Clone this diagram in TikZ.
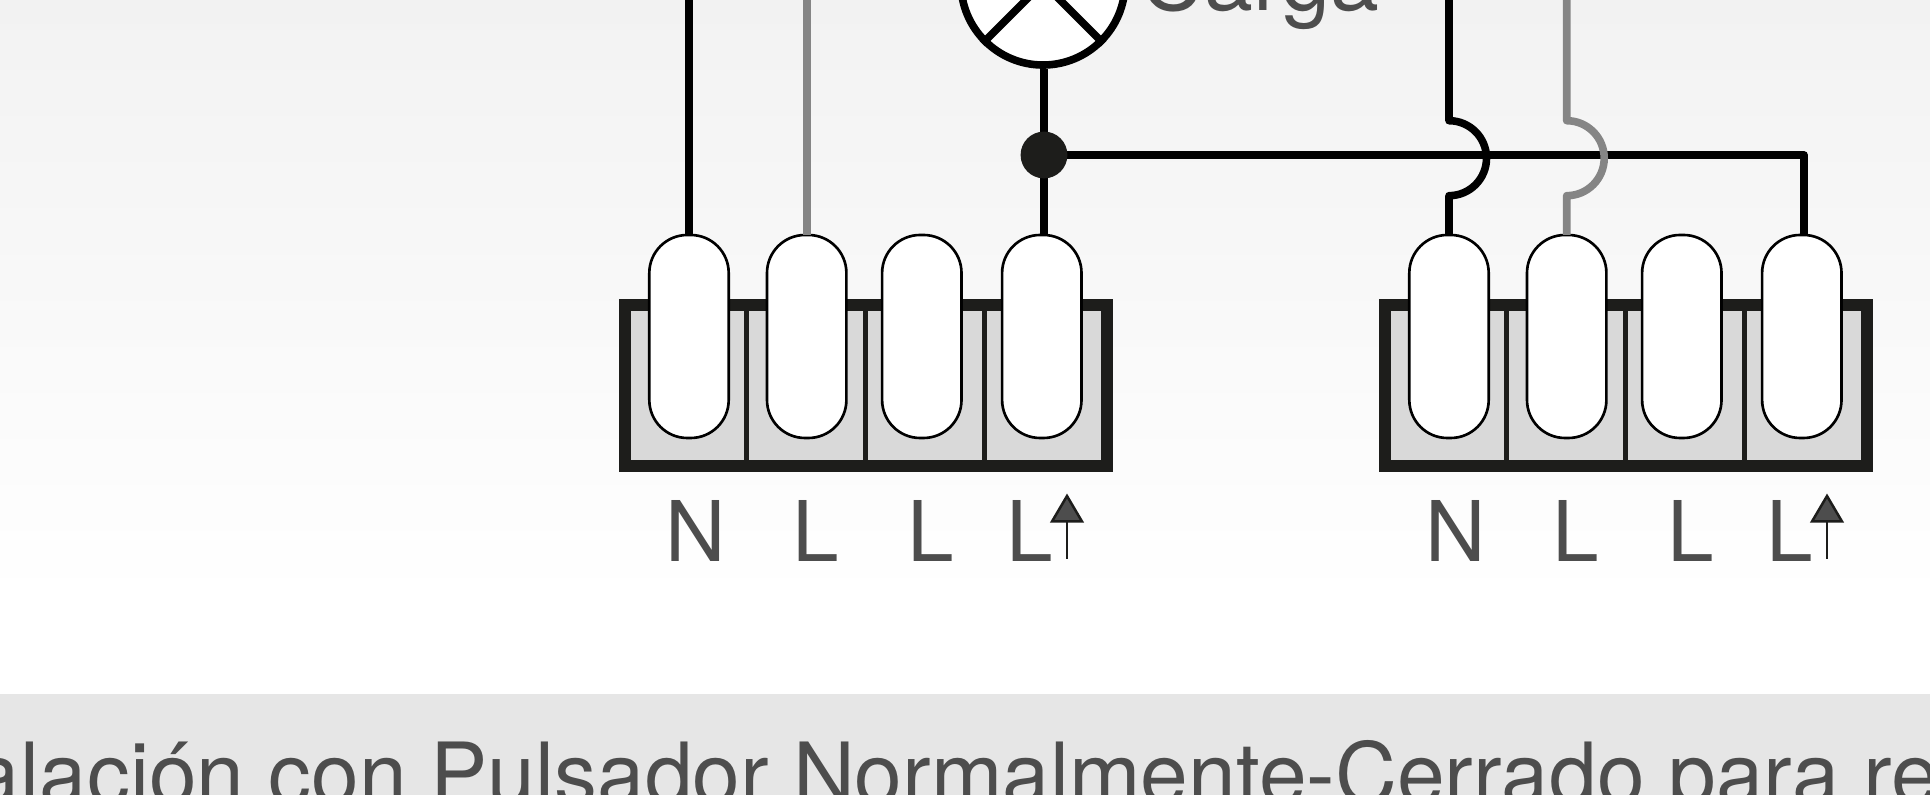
\documentclass[tikz,border=0pt]{standalone}
\usepackage{fontspec}
\setmainfont{TeX Gyre Heros}
\usepackage{tikz}
\usetikzlibrary{calc}
\definecolor{wirebk}{HTML}{000000}
\definecolor{wiregr}{HTML}{858585}
\definecolor{boxbk}{HTML}{1D1D1B}
\definecolor{boxfl}{HTML}{D9D9D9}
\definecolor{labgr}{HTML}{4D4D4D}
\definecolor{bandgr}{HTML}{E6E6E6}
\definecolor{topgr}{HTML}{F2F2F2}
\tikzset{
  wire/.style={line width=7.6*0.2845pt,wirebk,line join=round},
  graywire/.style={wire,wiregr},
  pill/.style={draw=black,fill=white,line width=0.75pt,rounded corners=38*0.2845pt},
  termlabel/.style={labgr,inner sep=0pt,anchor=base west,font=\fontsize{23.8}{23.8}\selectfont},
}
\begin{document}
\begin{tikzpicture}[x=0.01cm,y=-0.01cm]
  \useasboundingbox (0,0) rectangle (1930,795);
  \clip (0,0) rectangle (1930,795);
  % background
  \fill[white] (0,0) rectangle (1930,795);
  \shade[top color=topgr,bottom color=white] (0,0) rectangle (1930,600);
  \fill[bandgr] (0,694) rectangle (1930,795);
  \node[anchor=base west,inner sep=0pt,labgr,font=\fontsize{24.4}{24.4}\selectfont] (caption) at (-28,805) {alación con Pulsador Normalmente-Cerrado para re};
  % lamp
  \coordinate (lampc) at (1043,-17);
  \node[circle,draw=black,fill=white,line width=7.6*0.2845pt,minimum size=164*0.2845pt,inner sep=0pt] (lamp) at (lampc) {};
  \draw[wire] (lampc) -- (lamp.south west);
  \draw[wire] (lampc) -- (lamp.south east);
  \node[anchor=base west,inner sep=0pt,labgr,font=\fontsize{25}{25}\selectfont] (carga) at (1140,11) {Carga};
  % terminal blocks
  \foreach \o/\t in {0/a,760/b} {
    \begin{scope}[xshift=\o*0.01cm]
      \draw[boxbk,fill=boxfl,line width=12*0.2845pt] (625.3,304.7) rectangle (1107,466.5);
      \foreach \x in {746.8,865.4,984} \draw[boxbk,line width=5*0.2845pt] (\x,310) -- (\x,460);
      \foreach \x in {689,806.7,921.8,1041.8} \draw[pill] (\x-39.7,235) rectangle (\x+39.7,438);
      \coordinate (pin\t1) at (689,235);
      \coordinate (pin\t2) at (806.7,235);
      \coordinate (pin\t4) at (1044,235);
      \node[termlabel] (lab\t1) at (665,561.5) {N};
      \node[termlabel] (lab\t2) at (792,561.5) {L};
      \node[termlabel] (lab\t3) at (907,561.5) {L};
      \node[termlabel] (lab\t4) at (1005.5,561.5) {L};
      \draw[boxbk,line width=2.5*0.2845pt] (1067,522) -- (1067,559);
      \draw[boxbk,fill=labgr,line width=2.5*0.2845pt,line join=miter] (1067,496) -- (1082,521.5) -- (1052,521.5) -- cycle;
    \end{scope}
  }
  % wires
  \coordinate (topedge) at (0,0);
  \coordinate (jn) at (1044,155);
  \draw[wire] (pina1) -- (pina1 |- topedge);
  \draw[graywire] (pina2) -- (pina2 |- topedge);
  \draw[wire] (pina4) -- (jn) -- (lamp.south -| jn);
  \draw[wire] (jn) -- (pinb4 |- jn) -- (pinb4);
  \draw[wire] (pinb1 |- topedge) -- ($(pinb1 |- topedge)+(0,120.7)$) arc (-90:90:37.5) -- (pinb1);
  \draw[graywire] (pinb2 |- topedge) -- ($(pinb2 |- topedge)+(0,120.7)$) arc (-90:90:37.5) -- (pinb2);
  \node[circle,fill=boxbk,minimum size=46.8*0.2845pt,inner sep=0pt] (dot) at (jn) {};
\end{tikzpicture}
\end{document}
